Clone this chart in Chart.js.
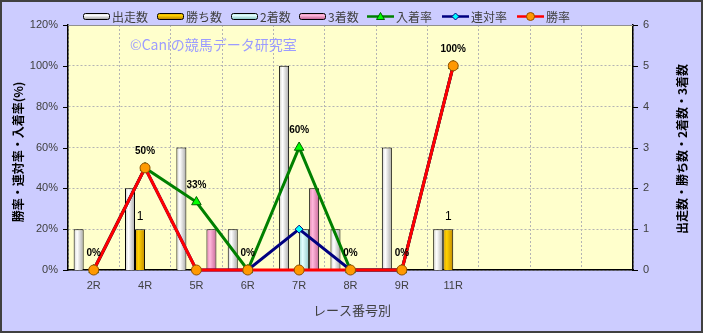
<!DOCTYPE html>
<html>
<head>
<meta charset="utf-8">
<script src="https://cdn.jsdelivr.net/npm/chart.js@4.4.0/dist/chart.umd.min.js"></script>
<style>
  html, body { margin: 0; padding: 0; background: #ccccff; }
  #wrap { width: 703px; height: 333px; position: relative; }
</style>
</head>
<body>
<div id="wrap"><canvas id="c" width="703" height="333"></canvas></div>
<script>
// ---- data ----
const labels       = ['2R', '4R', '5R', '6R', '7R', '8R', '9R', '11R', '', '', ''];
const starters     = [1, 2, 3, 1, 5, 1, 3, 1, null, null, null];   // 出走数
const wins         = [0, 1, 0, 0, 0, 0, 0, 1, null, null, null];   // 勝ち数
const seconds      = [0, 0, 0, 0, 1, 0, 0, 0, null, null, null];   // 2着数
const thirds       = [0, 0, 1, 0, 2, 0, 0, 0, null, null, null];   // 3着数
const placeRate    = [0, 50, 33.3, 0, 60, 0, 0, 100, null, null, null]; // 入着率
const quinellaRate = [0, 50, 0, 0, 20, 0, 0, 100, null, null, null];    // 連対率
const winRate      = [0, 50, 0, 0, 0, 0, 0, 100, null, null, null];     // 勝率
const leftTicks  = [0, 20, 40, 60, 80, 100, 120];
const rightTicks = [0, 1, 2, 3, 4, 5, 6];

const CAT_PCT = 0.78;
const FONT_JP = '"Noto Sans CJK JP", sans-serif';
const FONT_NUM = '"Liberation Sans", Arial, sans-serif';
const GRID = '#b4b4b4';

function barGrad(edge, light, edge2, k) {
  return (ctx) => {
    const chart = ctx.chart;
    const xs = chart.scales && chart.scales.x;
    if (!xs || ctx.dataIndex == null || !isFinite(xs.width) || xs.width <= 0) return light;
    const c = xs.getPixelForValue(ctx.dataIndex);
    const cw = xs.width / labels.length;
    const gw = cw * CAT_PCT;
    const bw = gw / 4;
    const left = c - gw / 2 + k * bw;
    const g = chart.ctx.createLinearGradient(left, 0, left + bw, 0);
    g.addColorStop(0, edge);
    g.addColorStop(0.35, light);
    g.addColorStop(1, edge2);
    return g;
  };
}
const zeroBorder = (ctx) => (ctx.raw ? 1 : 0);

const barStyles = [
  ['#cfcfcf', '#ffffff', '#a8a8a8'],
  ['#d89a00', '#ffd200', '#c08800'],
  ['#9fd8d8', '#e4ffff', '#90c8c8'],
  ['#e080b0', '#ffb8dc', '#c86898'],
];

const decor = {
  id: 'decor',
  beforeDraw(chart) {
    const c = chart.ctx, a = chart.chartArea;
    c.save();
    c.fillStyle = '#ccccff';
    c.fillRect(0, 0, chart.width, chart.height);
    c.fillStyle = '#ffffcc';
    c.fillRect(a.left, a.top, a.right - a.left, a.bottom - a.top);
    c.restore();
  },
  afterDraw(chart) {
    const c = chart.ctx, a = chart.chartArea;
    const ys = chart.scales.y, y1 = chart.scales.y1, xs = chart.scales.x;
    c.save();
    // top border
    c.strokeStyle = '#909090'; c.lineWidth = 1;
    c.beginPath(); c.moveTo(a.left, a.top + 0.5); c.lineTo(a.right, a.top + 0.5); c.stroke();
    // tick marks
    c.strokeStyle = '#000';
    c.beginPath();
    leftTicks.forEach(v => { const p = Math.round(ys.getPixelForValue(v)) + 0.5; c.moveTo(a.left - 5, p); c.lineTo(a.left, p); });
    rightTicks.forEach(v => { const p = Math.round(y1.getPixelForValue(v)) + 0.5; c.moveTo(a.right, p); c.lineTo(a.right + 5, p); });
    c.stroke();

    // data labels for 入着率
    c.fillStyle = '#000';
    c.textAlign = 'center'; c.textBaseline = 'middle';
    c.font = 'bold 10px ' + FONT_NUM;
    placeRate.forEach((v, i) => {
      if (v == null) return;
      const x = xs.getPixelForValue(i), y = ys.getPixelForValue(v);
      c.fillText(Math.round(v) + '%', x, y - 17);
    });
    // labels for 勝ち数
    c.font = '12px ' + FONT_NUM;
    const meta = chart.getDatasetMeta(4);
    wins.forEach((v, i) => {
      if (!v) return;
      const el = meta.data[i];
      c.fillText(String(v), el.x, y1.getPixelForValue(v) - 12);
    });

    // watermark
    c.fillStyle = '#9c9cff';
    c.textAlign = 'left';
    c.font = '14px ' + FONT_JP;
    c.fillText('©Caniの競馬データ研究室', 130, 45);

    // axis titles
    c.fillStyle = '#000';
    c.font = 'bold 12px ' + FONT_JP;
    c.textAlign = 'center';
    c.save(); c.translate(18, 152); c.rotate(-Math.PI / 2); c.fillText('勝率・連対率・入着率(%)', 0, 0); c.restore();
    c.save(); c.translate(682, 149); c.rotate(-Math.PI / 2); c.fillText('出走数・勝ち数・2着数・3着数', 0, 0); c.restore();
    c.fillStyle = '#404040';
    c.font = '13px ' + FONT_JP;
    c.fillText('レース番号別', 352, 310);

    // legend
    const ly = 16;
    const items = [
      { t: '出走数', x: 83, bar: 0 },
      { t: '勝ち数', x: 157, bar: 1 },
      { t: '2着数', x: 231, bar: 2 },
      { t: '3着数', x: 299, bar: 3 },
      { t: '入着率', x: 367, line: '#008000', pt: 'tri', fill: '#00ff00', pb: '#006000' },
      { t: '連対率', x: 442, line: '#000080', pt: 'dia', fill: '#00ffff', pb: '#000080' },
      { t: '勝率', x: 517, line: '#ff0000', pt: 'cir', fill: '#ff9900', pb: '#905000' },
    ];
    items.forEach(it => {
      const w = 27;
      if (it.bar != null) {
        const s = barStyles[it.bar];
        const g = c.createLinearGradient(0, ly - 3, 0, ly + 3);
        g.addColorStop(0, s[0]); g.addColorStop(0.4, s[1]); g.addColorStop(1, s[2]);
        c.fillStyle = g;
        c.strokeStyle = '#000'; c.lineWidth = 1;
        c.beginPath();
        if (c.roundRect) c.roundRect(it.x + 0.5, ly - 2.5, w - 1, 6, 2); else c.rect(it.x + 0.5, ly - 2.5, w - 1, 6);
        c.fill(); c.stroke();
      } else {
        c.strokeStyle = it.line; c.lineWidth = 2.5;
        c.beginPath(); c.moveTo(it.x, ly + 0.5); c.lineTo(it.x + w, ly + 0.5); c.stroke();
        const cx = it.x + w / 2, cy = ly + 0.5;
        c.fillStyle = it.fill; c.strokeStyle = it.pb; c.lineWidth = 1;
        c.beginPath();
        if (it.pt === 'tri') { c.moveTo(cx, cy - 4); c.lineTo(cx + 4, cy + 3); c.lineTo(cx - 4, cy + 3); c.closePath(); }
        else if (it.pt === 'dia') { c.moveTo(cx, cy - 3.5); c.lineTo(cx + 3.5, cy); c.lineTo(cx, cy + 3.5); c.lineTo(cx - 3.5, cy); c.closePath(); }
        else { c.arc(cx, cy, 4, 0, Math.PI * 2); }
        c.fill(); c.stroke();
      }
      c.fillStyle = '#404040';
      c.textAlign = 'left'; c.textBaseline = 'middle';
      c.font = '12px ' + FONT_JP;
      c.fillText(it.t, it.x + w + 2, ly + 1);
    });

    // outer frame
    c.strokeStyle = '#404040'; c.lineWidth = 2;
    c.strokeRect(1, 1, chart.width - 2, chart.height - 2);
    c.restore();
  }
};

const barNames = ['出走数', '勝ち数', '2着数', '3着数'];
const barData = [starters, wins, seconds, thirds];
const barDatasets = barData.map((d, k) => ({
  type: 'bar',
  label: barNames[k],
  data: d,
  yAxisID: 'y1',
  order: 10 + k,
  backgroundColor: barGrad(barStyles[k][0], barStyles[k][1], barStyles[k][2], k),
  borderColor: '#000',
  borderWidth: zeroBorder,
  borderSkipped: 'bottom',
  categoryPercentage: CAT_PCT,
  barPercentage: 1.0,
}));

const lineDatasets = [
  { label: '入着率', data: placeRate, borderColor: '#008000', pointStyle: 'triangle', pointRadius: 5.5, pointBackgroundColor: '#00ff00', pointBorderColor: '#006000', order: 3 },
  { label: '連対率', data: quinellaRate, borderColor: '#000080', pointStyle: 'rectRot', pointRadius: 4, pointBackgroundColor: '#00ffff', pointBorderColor: '#000080', order: 2 },
  { label: '勝率', data: winRate, borderColor: '#ff0000', pointStyle: 'circle', pointRadius: 5, pointBackgroundColor: '#ff9900', pointBorderColor: '#905000', order: 1 },
].map(d => Object.assign({
  type: 'line', yAxisID: 'y', borderWidth: 3, pointBorderWidth: 1, clip: false, spanGaps: false, tension: 0,
}, d));

new Chart(document.getElementById('c'), {
  type: 'bar',
  data: { labels, datasets: [...lineDatasets, ...barDatasets] },
  options: {
    responsive: false,
    animation: false,
    devicePixelRatio: 1,
    layout: { padding: { top: 25, left: 0, right: 0, bottom: 0 } },
    plugins: { legend: { display: false }, tooltip: { enabled: false } },
    scales: {
      x: {
        type: 'category',
        offset: true,
        grid: { offset: true, color: GRID, lineWidth: 1, tickLength: 0, drawTicks: false },
        border: { display: true, color: '#000', width: 1.5, dash: [2, 2] },
        ticks: { color: '#404040', font: { family: FONT_NUM, size: 11 }, padding: 9, maxRotation: 0, autoSkip: false },
        afterFit(s) { s.height = 63; },
      },
      y: {
        position: 'left',
        min: 0, max: 120,
        afterBuildTicks(s) { s.ticks = leftTicks.map(v => ({ value: v })); },
        grid: { color: GRID, lineWidth: 1, drawTicks: false },
        border: { display: true, color: '#000', width: 1.5, dash: [2, 2] },
        ticks: { color: '#404040', font: { family: FONT_NUM, size: 11 }, padding: 10, callback: v => v + '%' },
        afterFit(s) { s.width = 68; },
      },
      y1: {
        position: 'right',
        min: 0, max: 6,
        afterBuildTicks(s) { s.ticks = rightTicks.map(v => ({ value: v })); },
        grid: { display: false, drawTicks: false },
        border: { display: true, color: '#000', width: 1.5 },
        ticks: { color: '#404040', font: { family: FONT_NUM, size: 11 }, padding: 10 },
        afterFit(s) { s.width = 70; },
      },
    },
  },
  plugins: [decor],
});
</script>
</body>
</html>
